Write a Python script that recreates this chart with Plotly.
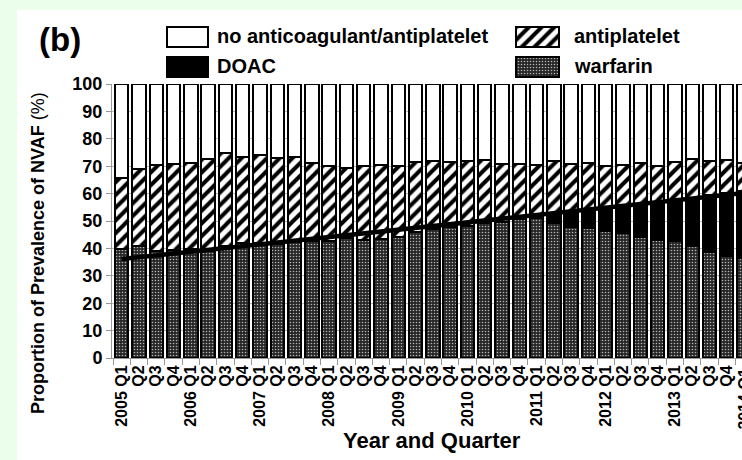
import plotly.graph_objects as go

# Quarterly prevalence of treatment categories among NVAF patients (%)
quarters = [
    "2005 Q1", "2005 Q2", "2005 Q3", "2005 Q4",
    "2006 Q1", "2006 Q2", "2006 Q3", "2006 Q4",
    "2007 Q1", "2007 Q2", "2007 Q3", "2007 Q4",
    "2008 Q1", "2008 Q2", "2008 Q3", "2008 Q4",
    "2009 Q1", "2009 Q2", "2009 Q3", "2009 Q4",
    "2010 Q1", "2010 Q2", "2010 Q3", "2010 Q4",
    "2011 Q1", "2011 Q2", "2011 Q3", "2011 Q4",
    "2012 Q1", "2012 Q2", "2012 Q3", "2012 Q4",
    "2013 Q1", "2013 Q2", "2013 Q3", "2013 Q4",
    "2014 Q1",
]
tick_labels = [
    "2005 Q1", "Q2", "Q3", "Q4",
    "2006 Q1", "Q2", "Q3", "Q4",
    "2007 Q1", "Q2", "Q3", "Q4",
    "2008 Q1", "Q2", "Q3", "Q4",
    "2009 Q1", "Q2", "Q3", "Q4",
    "2010 Q1", "Q2", "Q3", "Q4",
    "2011 Q1", "Q2", "Q3", "Q4",
    "2012 Q1", "Q2", "Q3", "Q4",
    "2013 Q1", "Q2", "Q3", "Q4",
    "2014 Q1",
]
warfarin = [39.7, 40.7, 38.9, 39.5, 39.7, 38.9, 40.7, 41.9, 42.1, 41.7, 42.5, 42.8,
            42.7, 43.7, 43.1, 43.4, 44.2, 46.0, 47.0, 47.8, 48.3, 49.4, 49.8, 50.6,
            51.0, 49.4, 47.8, 47.6, 46.5, 45.6, 44.3, 43.1, 42.8, 40.7, 38.8, 37.3,
            36.5]
doac = [0.0, 0.0, 0.0, 0.0, 0.0, 0.0, 0.0, 0.0, 0.0, 0.0, 0.0, 0.0,
        0.0, 0.0, 0.0, 0.0, 0.0, 0.0, 0.0, 0.0, 0.0, 0.0, 0.0, 0.0,
        0.3, 3.4, 6.0, 6.7, 8.2, 9.7, 12.0, 13.6, 14.7, 17.6, 20.7, 22.8,
        24.5]
antiplatelet = [26.1, 28.2, 31.6, 31.3, 31.5, 33.9, 34.0, 31.5, 31.9, 31.3, 31.0, 28.2,
                27.2, 25.8, 26.8, 27.1, 25.7, 25.4, 25.0, 23.6, 23.7, 22.9, 21.0, 20.2,
                19.2, 19.1, 16.9, 17.0, 15.4, 15.2, 14.8, 13.4, 14.1, 14.5, 12.4, 12.1,
                10.0]
no_treatment = [34.2, 31.1, 29.5, 29.2, 28.8, 27.2, 25.3, 26.6, 26.0, 27.0, 26.5, 29.0,
                30.1, 30.5, 30.1, 29.5, 30.1, 28.6, 28.0, 28.6, 28.0, 27.7, 29.2, 29.2,
                29.5, 28.1, 29.3, 28.7, 29.9, 29.5, 28.9, 29.9, 28.4, 27.2, 28.1, 27.8,
                29.0]
# linear trend of total anticoagulant use (end points)
trend_quarters = ["2005 Q1", "2014 Q1"]
trend_values = [36.1, 60.2]

# key entries: label, column, row
key_labels = ["no anticoagulant/antiplatelet", "DOAC", "antiplatelet", "warfarin"]

W, H = 742, 460
L, R, T, B = 112, 0, 10, 102
PW, PH = W - L - R, H - T - B
CHART_TOP = 84          # top of the bar chart area, px from the top
X_RANGE = [-0.561, 35.88]

FONT = "Liberation Sans, Arial, Helvetica, sans-serif"
OUTLINE = dict(color="black", width=2)
BAR_W = 0.775

STYLES = {
    "warfarin": dict(color="#262626", line=OUTLINE,
                     pattern=dict(shape=".", fgcolor="#b0b0b0", bgcolor="#262626",
                                  size=3, solidity=0.22, fillmode="replace")),
    "DOAC": dict(color="black", line=OUTLINE),
    "antiplatelet": dict(color="white", line=OUTLINE,
                         pattern=dict(shape="/", fgcolor="black", bgcolor="white",
                                      size=9, solidity=0.45, fillmode="replace")),
    "no anticoagulant/antiplatelet": dict(color="white", line=OUTLINE),
}


def paper_x(px):
    return (px - L) / PW


def paper_y(py):
    return (H - B - py) / PH


fig = go.Figure()
for name, values in [("warfarin", warfarin), ("DOAC", doac),
                     ("antiplatelet", antiplatelet),
                     ("no anticoagulant/antiplatelet", no_treatment)]:
    fig.add_trace(go.Bar(x=quarters, y=values, name=name, width=BAR_W,
                         marker=STYLES[name], showlegend=False))

fig.add_trace(go.Scatter(
    x=trend_quarters, y=trend_values, mode="lines",
    line=dict(color="black", width=4.5), showlegend=False, hoverinfo="skip",
))

# key swatches live on a small pixel-scaled axis pair above the chart
KEY_COL_X = [167, 516]       # left edge of swatch per column
KEY_COL_W = [41, 43]         # swatch width per column
KEY_ROW_Y = [37, 67]         # swatch centre per row
KEY_TEXT_X = [215, 572]
annotations = []
for i, name in enumerate(key_labels):
    col, row = i // 2, i % 2
    fig.add_trace(go.Bar(
        x=[KEY_COL_W[col]], base=[KEY_COL_X[col] - L], y=[KEY_ROW_Y[row]],
        orientation="h", width=20, marker=STYLES[name],
        xaxis="x2", yaxis="y2", showlegend=False, hoverinfo="skip",
    ))
    annotations.append(dict(
        text=name, xref="paper", yref="paper", x=paper_x(KEY_TEXT_X[col]),
        y=paper_y(KEY_ROW_Y[row] - 1), xanchor="left", yanchor="middle",
        showarrow=False, font=dict(family=FONT, size=20, color="black", weight="bold"),
    ))

fig.update_layout(
    width=W, height=H,
    margin=dict(l=L, r=R, t=T, b=B),
    paper_bgcolor="#ebfdeb",
    plot_bgcolor="rgba(0,0,0,0)",
    barmode="stack",
    bargap=0,
    showlegend=False,
    font=dict(family=FONT, color="black"),
    shapes=[
        dict(type="rect", xref="paper", yref="paper", layer="below",
             x0=paper_x(17), x1=paper_x(W + 5), y0=paper_y(H + 5), y1=paper_y(10),
             fillcolor="white", line=dict(width=0)),
    ],
    xaxis=dict(
        type="category", categoryorder="array", categoryarray=quarters,
        range=X_RANGE, tickmode="array", tickvals=quarters, ticktext=tick_labels,
        tickangle=-90, tickson="boundaries", ticks="outside", ticklen=6,
        tickcolor="#999", tickwidth=1, showline=True, linecolor="#999", linewidth=1,
        showgrid=False, automargin=False, anchor="y",
        tickfont=dict(family=FONT, size=16, color="black", weight="bold"),
    ),
    yaxis=dict(
        domain=[0, paper_y(CHART_TOP)],
        range=[0, 100], tickmode="linear", tick0=0, dtick=10,
        ticks="outside", ticklen=5, tickcolor="#999", tickwidth=1,
        showline=True, linecolor="#999", linewidth=1,
        showgrid=True, gridcolor="#b5b5b5", gridwidth=1, zeroline=False,
        automargin=False, anchor="x",
        tickfont=dict(family=FONT, size=18, color="black", weight="bold"),
    ),
    xaxis2=dict(domain=[0, 1], range=[0, PW], visible=False, anchor="y2",
                fixedrange=True),
    yaxis2=dict(domain=[paper_y(80), paper_y(24)], range=[80, 24], visible=False,
                anchor="x2", fixedrange=True),
    annotations=annotations + [
        dict(text="(b)", xref="paper", yref="paper", x=paper_x(37), y=paper_y(40),
             xanchor="left", yanchor="middle", showarrow=False,
             font=dict(family=FONT, size=33, color="black", weight="bold")),
        dict(text="Proportion of Prevalence of NVAF <span style='font-weight:normal'>(%)</span>",
             xref="paper", yref="paper", x=paper_x(38), y=paper_y(253),
             xanchor="center", yanchor="middle", textangle=-90, showarrow=False,
             font=dict(family=FONT, size=18, color="black", weight="bold")),
        dict(text="Year and Quarter", xref="paper", yref="paper",
             x=paper_x(432), y=paper_y(441), xanchor="center", yanchor="middle",
             showarrow=False,
             font=dict(family=FONT, size=22, color="black", weight="bold")),
        # tick label of the last quarter, which sits just past the visible range
        dict(text=tick_labels[-1], xref="paper", yref="paper",
             x=(len(quarters) - 1 - X_RANGE[0]) / (X_RANGE[1] - X_RANGE[0]),
             y=paper_y(H - B + 9), xanchor="center", yanchor="top",
             textangle=-90, showarrow=False,
             font=dict(family=FONT, size=16, color="black", weight="bold")),
    ],
)

fig.write_html("out.html")
